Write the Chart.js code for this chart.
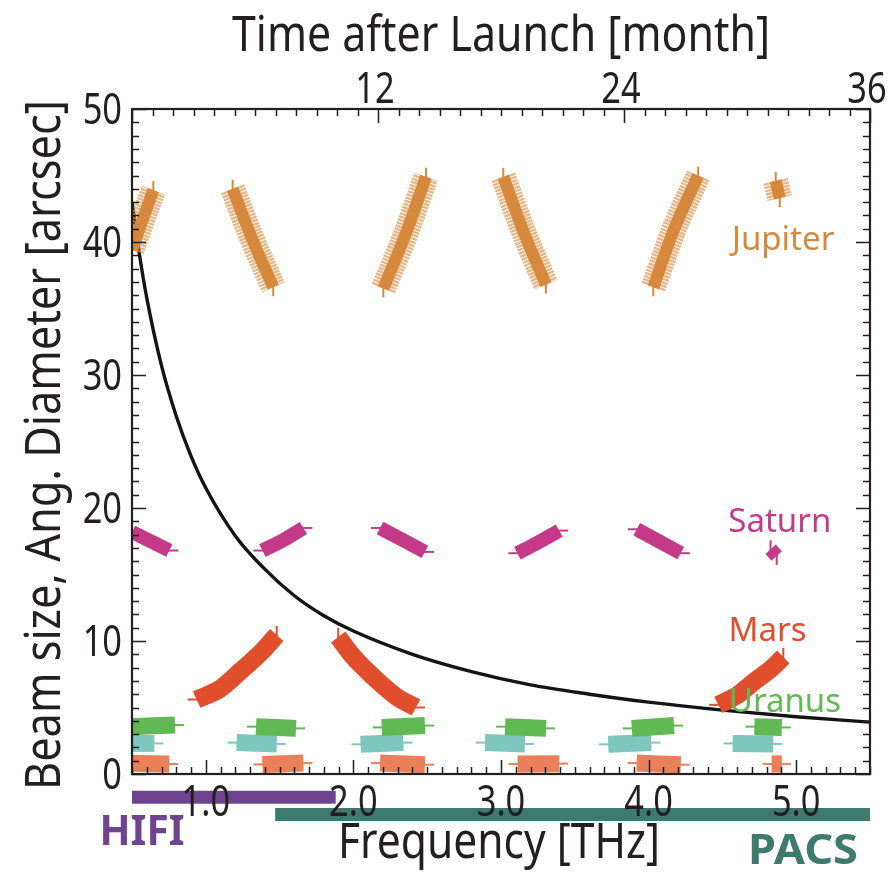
<!DOCTYPE html>
<html>
<head>
<meta charset="utf-8">
<script src="https://cdn.jsdelivr.net/npm/chart.js@4.4.1/dist/chart.umd.min.js"></script>
<style>
  html, body { margin: 0; padding: 0; background: #fff; }
  #wrap { width: 890px; height: 872px; }
</style>
</head>
<body>
<div id="wrap"><canvas id="beamChart" width="890" height="872"></canvas></div>
<script>
// telescope beam size (arcsec) against frequency (THz)
const beamFreq = [0.5, 0.55, 0.6, 0.7, 0.8, 0.9, 1.0, 1.2, 1.4, 1.6, 1.8, 2.0, 2.4, 2.8, 3.2, 3.6, 4.0, 4.5, 5.0, 5.5];
const beamSize = [43.0, 39.1, 35.8, 30.7, 26.9, 23.9, 21.5, 17.9, 15.4, 13.4, 11.9, 10.75, 9.0, 7.7, 6.7, 6.0, 5.4, 4.8, 4.3, 3.9];

// visibility windows, each a list of [month after launch, angular diameter]
const jupiter = [
  [[0, 39.4], [0.5, 41.6], [1.04, 43.9]],
  [[4.91, 44.0], [5.84, 40.3], [6.89, 36.6]],
  [[12.26, 36.5], [13.4, 40.8], [14.34, 44.9]],
  [[18.11, 44.9], [19.09, 40.8], [20.19, 36.8]],
  [[25.43, 36.6], [26.4, 40.8], [27.62, 45.0]],
  [[31.4, 44.6], [31.6, 43.3]]
];
const saturn = [
  [[0, 18.2], [1.82, 16.8]],
  [[6.36, 16.8], [7.4, 17.6], [8.36, 18.5]],
  [[12.1, 18.5], [13.2, 17.6], [14.29, 16.7]],
  [[18.8, 16.6], [19.8, 17.4], [20.84, 18.3]],
  [[24.62, 18.4], [25.7, 17.5], [26.77, 16.6]],
  [[31.15, 16.9], [31.45, 16.4]]
];
const mars = [
  [[3.15, 5.6], [4.29, 6.4], [5.27, 7.7], [6.4, 9.3], [7.06, 10.45]],
  [[10.06, 10.3], [10.8, 8.8], [11.77, 7.3], [12.91, 5.8], [13.85, 5.0]],
  [[28.6, 5.2], [29.5, 5.9], [30.31, 6.9], [31.2, 7.95], [31.77, 8.8]]
];
const uranus = [
  [[0, 3.56], [2.1, 3.68]],
  [[6.05, 3.56], [8.0, 3.43]],
  [[12.18, 3.5], [14.29, 3.64]],
  [[18.2, 3.56], [20.2, 3.43]],
  [[24.38, 3.43], [26.44, 3.64]],
  [[30.36, 3.56], [31.7, 3.5]]
];
const neptune = [
  [[0, 2.3], [1.09, 2.3]],
  [[5.1, 2.36], [7.06, 2.26]],
  [[11.15, 2.23], [13.24, 2.36]],
  [[17.22, 2.36], [19.17, 2.26]],
  [[23.23, 2.23], [25.33, 2.36]],
  [[29.3, 2.3], [31.28, 2.26]]
];
const callisto = [
  [[0, 0.8], [1.82, 0.75]],
  [[6.36, 0.72], [8.36, 0.82]],
  [[12.1, 0.82], [14.29, 0.7]],
  [[18.81, 0.75], [20.84, 0.78]],
  [[24.62, 0.82], [26.77, 0.7]],
  [[31.2, 0.76], [31.7, 0.76]]
];

// instrument frequency coverage (THz)
const hifiBand = [0.5, 1.88];
const pacsBand = [1.47, 5.5];

const freqTicks = [1, 2, 3, 4, 5];
const monthTicks = [12, 24, 36];
const diamTicks = [0, 10, 20, 30, 40, 50];

const ink = '#231F20';
const sans = "'Noto Sans', 'Open Sans', sans-serif";

const colors = {
  jupiter: '#D6883C',
  jupiterHatch: 'rgba(224, 152, 84, 0.7)',
  saturn: '#C43A89',
  mars: '#E04E2B',
  uranus: '#62B854',
  neptune: '#7EC6BE',
  callisto: '#E9805A',
  hifi: '#6E448E',
  pacs: '#3E7A6E'
};

// whisker at a segment end: vertical when the segment runs steeply there
function endRotation(ctx) {
  const pts = ctx.dataset.data;
  const i = ctx.dataIndex;
  const j = i === 0 ? 1 : i - 1;
  if (!pts[j]) return 0;
  const sx = ctx.chart.scales.xTop, sy = ctx.chart.scales.y;
  const dx = Math.abs(sx.getPixelForValue(pts[i].x) - sx.getPixelForValue(pts[j].x));
  const dy = Math.abs(sy.getPixelForValue(pts[i].y) - sy.getPixelForValue(pts[j].y));
  return dy > 0.9 * dx ? 90 : 0;
}

function segmentSets(segs, color, width) {
  return segs.map(seg => ({
    xAxisID: 'xTop',
    data: seg.map(([t, d]) => ({ x: t, y: d })),
    borderColor: color,
    backgroundColor: color,
    borderWidth: width,
    borderCapStyle: 'butt',
    cubicInterpolationMode: 'monotone',
    pointStyle: 'line',
    pointBorderColor: color,
    pointBorderWidth: 2,
    pointRadius: ctx => (ctx.dataIndex === 0 || ctx.dataIndex === seg.length - 1) ? 9 : 0,
    pointRotation: endRotation
  }));
}

// wide dashed stroke under the Jupiter tracks gives the hatched edge
function hatchSets(segs) {
  return segs.map(seg => ({
    xAxisID: 'xTop',
    data: seg.map(([t, d]) => ({ x: t, y: d })),
    borderColor: colors.jupiterHatch,
    borderWidth: 25,
    borderDash: [2.4, 0.9],
    borderCapStyle: 'butt',
    cubicInterpolationMode: 'monotone',
    pointRadius: 0
  }));
}

function bandSet(range, level, color) {
  return {
    xAxisID: 'x',
    data: range.map(f => ({ x: f, y: level })),
    borderColor: color,
    borderWidth: 13,
    borderCapStyle: 'butt',
    pointRadius: 0,
    clip: false
  };
}

const datasets = [
  ...segmentSets(mars, colors.mars, 18),
  ...segmentSets(saturn, colors.saturn, 14),
  ...segmentSets(jupiter, colors.jupiter, 12),
  ...hatchSets(jupiter),
  ...segmentSets(uranus, colors.uranus, 17),
  ...segmentSets(neptune, colors.neptune, 17),
  ...segmentSets(callisto, colors.callisto, 17),
  {
    xAxisID: 'x',
    data: beamFreq.map((f, i) => ({ x: f, y: beamSize[i] })),
    borderColor: '#141414',
    borderWidth: 3.4,
    cubicInterpolationMode: 'monotone',
    pointRadius: 0
  },
  bandSet(hifiBand, -1.75, colors.hifi),
  bandSet(pacsBand, -3.05, colors.pacs)
];

const planetLabels = [
  { text: 'Jupiter', t: 31.76, d: 40.1, color: colors.jupiter },
  { text: 'Saturn', t: 31.6, d: 18.9, color: colors.saturn },
  { text: 'Mars', t: 31.0, d: 10.7, color: colors.mars },
  { text: 'Uranus', t: 31.85, d: 5.4, color: colors.uranus }
];

// condensed text: the face is squeezed horizontally, either by a factor or to a given width
function squeezed(ctx, text, x, y, o) {
  ctx.save();
  ctx.font = o.font;
  ctx.fillStyle = o.color || ink;
  ctx.textBaseline = o.baseline || 'alphabetic';
  ctx.textAlign = o.align || 'center';
  const k = o.width ? o.width / ctx.measureText(text).width : (o.sx || 1);
  ctx.translate(x, y);
  if (o.rotate) ctx.rotate(o.rotate);
  ctx.scale(k, 1);
  ctx.fillText(text, 0, 0);
  ctx.restore();
}

// frame with inward ticks, axis labels and titles, planet and instrument names
const framePlugin = {
  id: 'frame',
  afterDraw(chart) {
    const { ctx, chartArea: a, scales } = chart;
    const x = scales.x, xt = scales.xTop, y = scales.y;
    ctx.save();
    ctx.strokeStyle = ink;
    ctx.lineWidth = 1.5;
    ctx.beginPath();
    for (let v = 0; v <= 50; v++) {
      const py = Math.round(y.getPixelForValue(v)) + 0.5;
      const len = v % 10 === 0 ? 14 : 7;
      ctx.moveTo(a.left, py); ctx.lineTo(a.left + len, py);
      ctx.moveTo(a.right, py); ctx.lineTo(a.right - len, py);
    }
    for (let k = 5; k <= 55; k++) {
      const px = Math.round(x.getPixelForValue(k / 10)) + 0.5;
      const len = k % 10 === 0 ? 14 : 7;
      ctx.moveTo(px, a.bottom); ctx.lineTo(px, a.bottom - len);
    }
    for (let m = 0; m <= 36; m++) {
      const px = Math.round(xt.getPixelForValue(m)) + 0.5;
      const len = m % 12 === 0 ? 14 : 7;
      ctx.moveTo(px, a.top); ctx.lineTo(px, a.top + len);
    }
    ctx.stroke();
    ctx.lineWidth = 2.2;
    ctx.strokeRect(a.left, a.top, a.right - a.left, a.bottom - a.top);
    ctx.restore();

    const tickFont = `43px ${sans}`;
    x.ticks.forEach(t => squeezed(ctx, t.value.toFixed(1), x.getPixelForValue(t.value), a.bottom + 42, { font: tickFont, sx: 0.8 }));
    xt.ticks.forEach(t => squeezed(ctx, String(t.value), xt.getPixelForValue(t.value) - 3, a.top - 6, { font: tickFont, sx: 0.8 }));
    y.ticks.forEach(t => squeezed(ctx, String(t.value), a.left - 10, y.getPixelForValue(t.value) + 15, { font: tickFont, sx: 0.8, align: 'right' }));

    const titleFont = `50px ${sans}`;
    squeezed(ctx, 'Time after Launch [month]', 501, 51, { font: titleFont, width: 538 });
    squeezed(ctx, 'Frequency [THz]', 499, 858, { font: titleFont, width: 322 });
    squeezed(ctx, 'Beam size, Ang. Diameter [arcsec]', 60, 445, { font: titleFont, width: 690, rotate: -Math.PI / 2 });

    planetLabels.forEach(l => squeezed(ctx, l.text, xt.getPixelForValue(l.t), y.getPixelForValue(l.d), { font: `33px ${sans}`, color: l.color, baseline: 'middle' }));

    const boldFont = `bold 42px ${sans}`;
    squeezed(ctx, 'HIFI', 142, 845, { font: boldFont, color: colors.hifi, width: 85 });
    squeezed(ctx, 'PACS', 803, 864, { font: boldFont, color: colors.pacs, width: 110 });
  }
};

new Chart(document.getElementById('beamChart'), {
  type: 'line',
  data: { datasets },
  options: {
    responsive: false,
    animation: false,
    events: [],
    layout: { padding: { left: 0, right: 20, top: 0, bottom: 0 } },
    plugins: { legend: { display: false }, tooltip: { enabled: false } },
    scales: {
      x: {
        type: 'linear', position: 'bottom', min: 0.5, max: 5.5,
        grid: { display: false, drawTicks: false },
        border: { display: false },
        afterBuildTicks: s => { s.ticks = freqTicks.map(v => ({ value: v })); },
        afterFit: s => { s.height = 98; },
        ticks: { display: false }
      },
      xTop: {
        type: 'linear', position: 'top', min: 0, max: 36,
        grid: { display: false, drawTicks: false },
        border: { display: false },
        afterBuildTicks: s => { s.ticks = monthTicks.map(v => ({ value: v })); },
        afterFit: s => { s.height = 109; },
        ticks: { display: false }
      },
      y: {
        type: 'linear', position: 'left', min: 0, max: 50,
        grid: { display: false, drawTicks: false },
        border: { display: false },
        afterBuildTicks: s => { s.ticks = diamTicks.map(v => ({ value: v })); },
        afterFit: s => { s.width = 132; },
        ticks: { display: false }
      }
    }
  },
  plugins: [framePlugin]
});
</script>
</body>
</html>
